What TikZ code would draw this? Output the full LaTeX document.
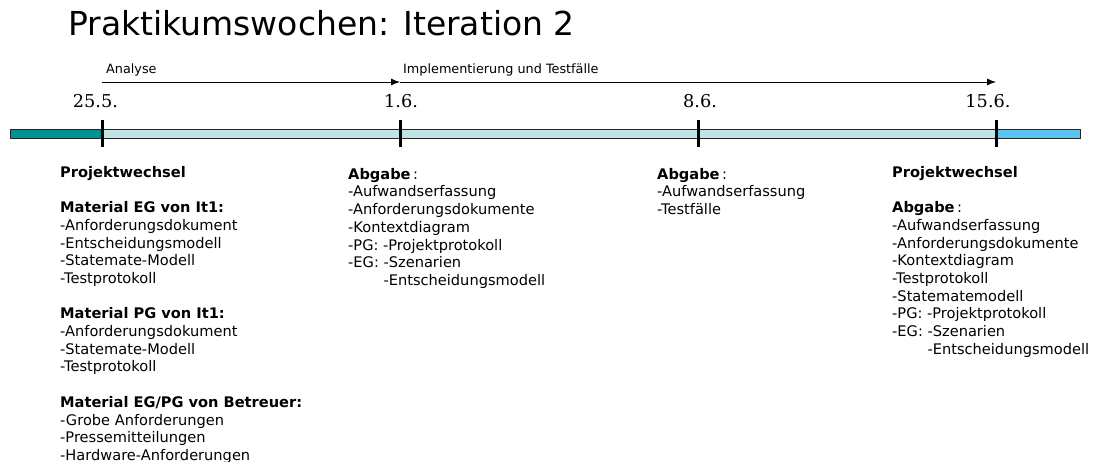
\documentclass[tikz,border=0pt]{standalone}
\usepackage{fontspec}
\setmainfont{DejaVu Sans}
\newfontfamily\datefont{DejaVu Serif}
\usepackage{tikz}
\usetikzlibrary{arrows,arrows.meta,positioning}
\definecolor{startcol}{RGB}{0,146,146}
\definecolor{itercol}{RGB}{194,226,228}
\definecolor{nextcol}{RGB}{92,196,240}
\tikzstyle{titel} = [anchor=base west, inner sep=0, font=\fontsize{33}{40}\selectfont]
\tikzstyle{phase} = [anchor=base west, inner sep=0, font=\fontsize{12.8}{15}\selectfont]
\tikzstyle{datum} = [anchor=base, inner sep=0, font=\datefont\fontsize{17.7}{21}\selectfont]
\tikzstyle{block} = [anchor=north west, inner sep=0, align=left, font=\fontsize{14.6}{17.7}\selectfont]
\tikzstyle{bar} = [draw=black!85, line width=0.8pt]
\tikzstyle{tick} = [line width=3pt]
\tikzstyle{arrow} = [-{Latex[length=9pt,width=7pt]}, line width=0.9pt]

\begin{document}
\begin{tikzpicture}[x=1pt,y=-1pt]
		\useasboundingbox[fill=white] (0,0) rectangle (1101,462);
		\node (titel) [titel] at (68,36) {Praktikumswochen: Iteration 2};
		\coordinate (w1) at (102,82);
		\coordinate (w2) at (400,82);
		\coordinate (w4) at (996,82);
		\node (analyse) [phase] at (106,73.3) {Analyse};
		\node (impl) [phase] at (403,73.3) {Implementierung und Testfälle};
		\draw [arrow] (w1) -- (w2);
		\draw [arrow] (w2) -- (w4);
		\node (d1) [datum] at (95.5,108) {25.5.};
		\node (d2) [datum] at (401,108) {1.6.};
		\node (d3) [datum] at (700,108) {8.6.};
		\node (d4) [datum] at (988,108) {15.6.};
		\filldraw [bar, fill=startcol] (10,129.5) rectangle (102,138);
		\filldraw [bar, fill=itercol] (102,129.5) rectangle (996,138);
		\filldraw [bar, fill=nextcol] (996,129.5) rectangle (1080,138);
		\draw [tick] (102,120) -- (102,147);
		\draw [tick] (400,120) -- (400,147);
		\draw [tick] (698,120) -- (698,147);
		\draw [tick] (996,120) -- (996,147);
		\node (wechsel1) [block] at (60,166) {\textbf{Projektwechsel}\\[17.7pt]
			\textbf{Material EG von It1:}\\
			-Anforderungsdokument\\
			-Entscheidungsmodell\\
			-Statemate-Modell\\
			-Testprotokoll\\[17.7pt]
			\textbf{Material PG von It1:}\\
			-Anforderungsdokument\\
			-Statemate-Modell\\
			-Testprotokoll\\[17.7pt]
			\textbf{Material EG/PG von Betreuer:}\\
			-Grobe Anforderungen\\
			-Pressemitteilungen\\
			-Hardware-Anforderungen};
		\node (abgabe1) [block] at (348,168) {\textbf{Abgabe}\,:\\
			-Aufwandserfassung\\
			-Anforderungsdokumente\\
			-Kontextdiagram\\
			-PG: -Projektprotokoll\\
			-EG: -Szenarien\\
			\phantom{-EG: }-Entscheidungsmodell};
		\node (abgabe2) [block] at (657,168) {\textbf{Abgabe}\,:\\
			-Aufwandserfassung\\
			-Testfälle};
		\node (wechsel2) [block] at (892,166) {\textbf{Projektwechsel}\\[17.7pt]
			\textbf{Abgabe}\,:\\
			-Aufwandserfassung\\
			-Anforderungsdokumente\\
			-Kontextdiagram\\
			-Testprotokoll\\
			-Statematemodell\\
			-PG: -Projektprotokoll\\
			-EG: -Szenarien\\
			\phantom{-EG: }-Entscheidungsmodell};
	\end{tikzpicture}
\end{document}
